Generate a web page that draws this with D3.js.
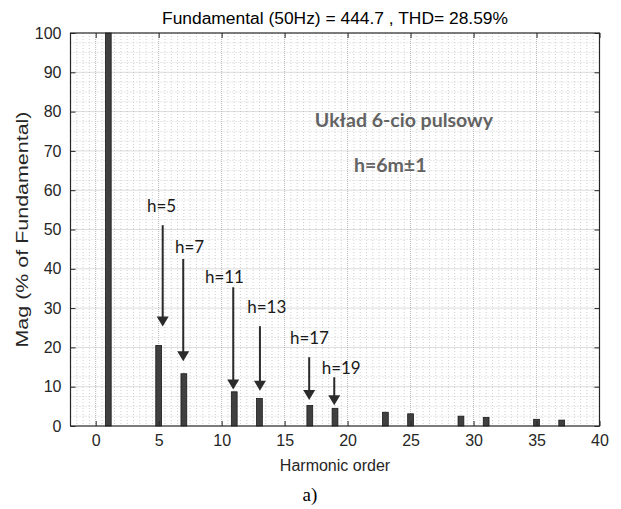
<!DOCTYPE html>
<html>
<head>
<meta charset="utf-8">
<script src="https://cdn.jsdelivr.net/npm/d3@7"></script>
<style>
  body { margin: 0; background: #fff; }
  svg { display: block; }
  .tick text { font-family: "Liberation Sans", Arial, sans-serif; font-size: 16px; fill: #262626; }
  .tick line { stroke: #262626; }
  .domain { stroke: none; }
</style>
</head>
<body>
<svg id="chart" width="621" height="509"></svg>
<script>
// harmonic spectrum data
let harmonics = [1, 5, 7, 11, 13, 17, 19, 23, 25, 29, 31, 35, 37];
let magnitudes = [100, 20.5, 13.3, 8.7, 7.0, 5.2, 4.5, 3.5, 3.1, 2.5, 2.2, 1.7, 1.5];

let xTicks = [0, 5, 10, 15, 20, 25, 30, 35, 40];
let yTicks = [0, 10, 20, 30, 40, 50, 60, 70, 80, 90, 100];

// arrow annotations (in data units)
let arrowLabels = ["h=5", "h=7", "h=11", "h=13", "h=17", "h=19"];
let arrowX = [5.32, 6.95, 10.92, 13.04, 16.95, 18.94];
let arrowTop = [51.1, 42.5, 35.3, 25.4, 17.5, 12.4];
let arrowTip = [25.3, 16.5, 9.3, 9.0, 6.6, 5.3];
let labelX = [4.07, 6.29, 8.67, 12.03, 15.42, 17.94];
let labelY = [54.5, 44.1, 36.4, 28.7, 20.9, 13.2];

let titleText = "Fundamental (50Hz) = 444.7 , THD= 28.59%";

let margin = {top: 33, right: 21.5, bottom: 83, left: 70.5}
  , width = 621 - margin.left - margin.right
  , height = 509 - margin.top - margin.bottom;

let xScale = d3.scaleLinear().domain([-2, 40]).range([0, width]);
let yScale = d3.scaleLinear().domain([0, 100]).range([height, 0]);

let svgRoot = d3.select("#chart");
let svg = svgRoot.append("g")
    .attr("transform", "translate(" + margin.left + "," + margin.top + ")");

// minor grid
let xMinor = d3.range(-1.5, 40, 0.5).filter(d => d % 5 !== 0);
let yMinor = d3.range(2.5, 100, 2.5).filter(d => d % 10 !== 0);
svg.selectAll(".xminor").data(xMinor).enter().append("line")
    .attr("x1", d => xScale(d)).attr("x2", d => xScale(d))
    .attr("y1", 0).attr("y2", height)
    .attr("stroke", "#d0d0d0").attr("stroke-dasharray", "1,2");
svg.selectAll(".yminor").data(yMinor).enter().append("line")
    .attr("x1", 0).attr("x2", width)
    .attr("y1", d => yScale(d)).attr("y2", d => yScale(d))
    .attr("stroke", "#d0d0d0").attr("stroke-dasharray", "1,2");

// major grid
svg.selectAll(".xmajor").data(xTicks.slice(0, -1)).enter().append("line")
    .attr("x1", d => xScale(d)).attr("x2", d => xScale(d))
    .attr("y1", 0).attr("y2", height)
    .attr("stroke", "#b8b8b8").attr("stroke-dasharray", "1,1");
svg.selectAll(".ymajor").data(yTicks.slice(1, -1)).enter().append("line")
    .attr("x1", 0).attr("x2", width)
    .attr("y1", d => yScale(d)).attr("y2", d => yScale(d))
    .attr("stroke", "#b8b8b8").attr("stroke-dasharray", "1,1");

// bars
let barW = 0.46;
svg.selectAll(".bar")
    .data(harmonics)
  .enter().append("rect")
    .attr("class", "bar")
    .attr("x", d => xScale(d - barW / 2))
    .attr("width", xScale(barW) - xScale(0))
    .attr("y", (d, i) => yScale(magnitudes[i]))
    .attr("height", (d, i) => height - yScale(magnitudes[i]))
    .attr("fill", "#404040")
    .attr("stroke", "#1a1a1a")
    .attr("stroke-width", 0.8);

// axes with inward ticks
svg.append("g")
    .attr("transform", "translate(0," + height + ")")
    .call(d3.axisBottom(xScale).tickValues(xTicks).tickSizeInner(-5).tickSizeOuter(0).tickPadding(9));
svg.append("g")
    .call(d3.axisLeft(yScale).tickValues(yTicks).tickSizeInner(-5).tickSizeOuter(0).tickPadding(9));
svg.append("g")
    .call(d3.axisTop(xScale).tickValues(xTicks).tickSizeInner(-5).tickSizeOuter(0).tickFormat(""));
svg.append("g")
    .attr("transform", "translate(" + width + ",0)")
    .call(d3.axisRight(yScale).tickValues(yTicks).tickSizeInner(-5).tickSizeOuter(0).tickFormat(""));

// box
svg.append("rect")
    .attr("width", width).attr("height", height)
    .attr("fill", "none").attr("stroke", "#262626").attr("stroke-width", 1.2);

// arrows
let arrows = svg.selectAll(".arrow").data(arrowLabels).enter().append("g");
arrows.append("line")
    .attr("x1", (d, i) => xScale(arrowX[i])).attr("x2", (d, i) => xScale(arrowX[i]))
    .attr("y1", (d, i) => yScale(arrowTop[i]))
    .attr("y2", (d, i) => yScale(arrowTip[i]) - 8)
    .attr("stroke", "#2b2b2b").attr("stroke-width", 2);
arrows.append("path")
    .attr("d", (d, i) => {
      let x = xScale(arrowX[i]), y = yScale(arrowTip[i]);
      return "M" + (x - 6) + "," + (y - 10) + "L" + (x + 6) + "," + (y - 10) + "L" + x + "," + y + "Z";
    })
    .attr("fill", "#2b2b2b");
arrows.append("text")
    .attr("x", (d, i) => xScale(labelX[i]))
    .attr("y", (d, i) => yScale(labelY[i]))
    .style("font-family", "Lato, 'Open Sans', sans-serif")
    .style("font-size", "17px")
    .style("fill", "#1a1a1a")
    .text(d => d);

// annotation text
svg.append("text")
    .attr("x", xScale(17.4)).attr("y", yScale(76.1))
    .style("font-family", "Lato, 'Open Sans', sans-serif")
    .style("font-size", "19.5px").style("font-weight", "bold")
    .style("fill", "#636363")
    .text("Układ 6-cio pulsowy");
svg.append("text")
    .attr("x", xScale(20.5)).attr("y", yScale(64.6))
    .style("font-family", "Lato, 'Open Sans', sans-serif")
    .style("font-size", "19.5px").style("font-weight", "bold")
    .style("fill", "#636363")
    .text("h=6m±1");

// title and labels
svgRoot.append("text")
    .attr("x", margin.left + width / 2).attr("y", 24)
    .attr("textLength", 346).attr("lengthAdjust", "spacingAndGlyphs")
    .style("text-anchor", "middle")
    .style("font-family", "'Liberation Sans', Arial, sans-serif")
    .style("font-size", "16px")
    .style("fill", "#000")
    .text(titleText);

svgRoot.append("text")
    .attr("x", margin.left + width / 2).attr("y", 471)
    .style("text-anchor", "middle")
    .style("font-family", "'Liberation Sans', Arial, sans-serif")
    .style("font-size", "16px").style("fill", "#262626")
    .text("Harmonic order");

svgRoot.append("text")
    .attr("transform", "rotate(-90)")
    .attr("x", -(margin.top + height / 2)).attr("y", 28)
    .attr("textLength", 236).attr("lengthAdjust", "spacingAndGlyphs")
    .style("text-anchor", "middle")
    .style("font-family", "'Liberation Sans', Arial, sans-serif")
    .style("font-size", "16px").style("fill", "#262626")
    .text("Mag (% of Fundamental)");

svgRoot.append("text")
    .attr("x", 310).attr("y", 501)
    .style("text-anchor", "middle")
    .style("font-family", "'Liberation Serif', 'Times New Roman', serif")
    .style("font-size", "19px").style("fill", "#000")
    .text("a)");
</script>
</body>
</html>
